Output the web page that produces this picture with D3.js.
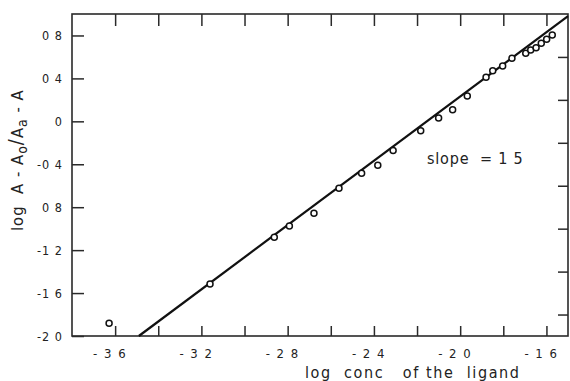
<!DOCTYPE html>
<html>
<head>
<meta charset="utf-8">
<script src="https://cdn.jsdelivr.net/npm/d3@7"></script>
<style>
  body { margin: 0; background: #fff; }
  svg text { font-family: "DejaVu Sans Condensed", "Liberation Sans Narrow", "DejaVu Sans", sans-serif; fill: #222; }
</style>
</head>
<body>
<div id="chart"></div>
<script>
// measured points, log conc vs log (A-Ao)/(Aa-A)
const logConc = [-3.628, -3.160, -2.862, -2.792, -2.678, -2.562, -2.457, -2.382, -2.311, -2.183,
                 -2.100, -2.035, -1.967, -1.880, -1.849, -1.803, -1.760, -1.696, -1.673, -1.648,
                 -1.624, -1.599, -1.573];
const logRatio = [-1.882, -1.516, -1.080, -0.975, -0.857, -0.624, -0.484, -0.410, -0.272, -0.087,
                  0.031, 0.108, 0.236, 0.410, 0.472, 0.516, 0.587, 0.634, 0.665, 0.686,
                  0.727, 0.764, 0.804];

// fitted straight line (slope 1.5)
const fitX = [-3.49, -1.50];
const fitY = [-2.00, 0.98];

// ticks
const xTicks = [-3.6, -3.4, -3.2, -3.0, -2.8, -2.6, -2.4, -2.2, -2.0, -1.8, -1.6];
const xLabelValues = [-3.6, -3.2, -2.8, -2.4, -2.0, -1.6];
const xLabels = ["- 3 6", "- 3 2", "- 2 8", "- 2 4", "- 2 0", "- 1 6"];
const yTicks = [0.8, 0.4, 0, -0.4, -0.8, -1.2, -1.6, -2.0];
const yLabels = ["0 8", "0 4", "0", "-0 4", "0 8", "-1 2", "-1 6", "-2 0"];
const yRightTicks = [0.6, 0.2, -0.2, -0.6, -1.0, -1.4, -1.8];

const width = 570, height = 381;
const plot = { left: 72, right: 568, top: 14, bottom: 336 };

const svg = d3.select("#chart").append("svg")
  .attr("width", width)
  .attr("height", height);

const x = d3.scaleLinear().domain([-3.8, -1.5]).range([plot.left, plot.right]);
const y = d3.scaleLinear().domain([-2.0, 1.0]).range([plot.bottom, plot.top]);

const ink = "#2a2a2a";

// frame
svg.append("rect")
  .attr("x", plot.left).attr("y", plot.top)
  .attr("width", plot.right - plot.left).attr("height", plot.bottom - plot.top)
  .attr("fill", "none")
  .attr("stroke", ink)
  .attr("stroke-width", 1.6);

// inward ticks on all four sides
function styleTicks(g) {
  g.select(".domain").remove();
  g.selectAll(".tick line").attr("stroke", ink).attr("stroke-width", 1.5);
}

svg.append("g")
  .attr("transform", `translate(${plot.left},0)`)
  .call(d3.axisLeft(y).tickValues(yTicks).tickSize(-12).tickFormat(""))
  .call(styleTicks);

svg.append("g")
  .attr("transform", `translate(${plot.right},0)`)
  .call(d3.axisRight(y).tickValues(yRightTicks).tickSize(-10).tickFormat(""))
  .call(styleTicks);

svg.append("g")
  .attr("transform", `translate(0,${plot.bottom})`)
  .call(d3.axisBottom(x).tickValues(xTicks).tickSize(-10).tickFormat(""))
  .call(styleTicks);

svg.append("g")
  .attr("transform", `translate(0,${plot.top})`)
  .call(d3.axisTop(x).tickValues(xTicks).tickSize(-12).tickFormat(""))
  .call(styleTicks);

// tick labels
svg.append("g").selectAll("text")
  .data(yTicks)
  .join("text")
    .attr("x", 63)
    .attr("y", d => y(d))
    .attr("dy", "0.36em")
    .attr("text-anchor", "end")
    .style("font-size", "12.5px")
    .style("letter-spacing", "1px")
    .text((d, i) => yLabels[i]);

svg.append("g").selectAll("text")
  .data(xLabelValues)
  .join("text")
    .attr("x", d => x(d) - 5)
    .attr("y", 358)
    .attr("text-anchor", "middle")
    .style("font-size", "13px")
    .style("letter-spacing", "1.5px")
    .text((d, i) => xLabels[i]);

// axis titles
svg.append("text")
  .attr("x", 305)
  .attr("y", 378)
  .style("font-size", "16px")
  .style("letter-spacing", "1.6px")
  .attr("xml:space", "preserve")
  .text("log  conc   of the  ligand");

const yt = svg.append("text")
  .attr("transform", "translate(23,231) rotate(-90)")
  .style("font-size", "16.5px")
  .style("letter-spacing", "1px")
  .attr("xml:space", "preserve");
yt.append("tspan").text("log  A - A");
yt.append("tspan").attr("baseline-shift", "-30%").style("font-size", "14px").text("o");
yt.append("tspan").attr("dy", "-1").style("font-size", "20px").text("/");
yt.append("tspan").attr("dy", "1").text("A");
yt.append("tspan").attr("baseline-shift", "-30%").style("font-size", "14px").text("a");
yt.append("tspan").text(" - A");

// fit line
svg.append("line")
  .attr("x1", x(fitX[0])).attr("y1", y(fitY[0]))
  .attr("x2", x(fitX[1])).attr("y2", y(fitY[1]))
  .attr("stroke", "#111")
  .attr("stroke-width", 2.2);

// points
svg.append("g").selectAll("circle")
  .data(logConc)
  .join("circle")
    .attr("cx", d => x(d))
    .attr("cy", (d, i) => y(logRatio[i]))
    .attr("r", 3)
    .attr("fill", "#fff")
    .attr("stroke", "#111")
    .attr("stroke-width", 1.5);

// annotation
svg.append("text")
  .attr("x", 427)
  .attr("y", 164)
  .style("font-size", "16px")
  .style("letter-spacing", "0.8px")
  .attr("xml:space", "preserve")
  .text("slope  = 1 5");
</script>
</body>
</html>
